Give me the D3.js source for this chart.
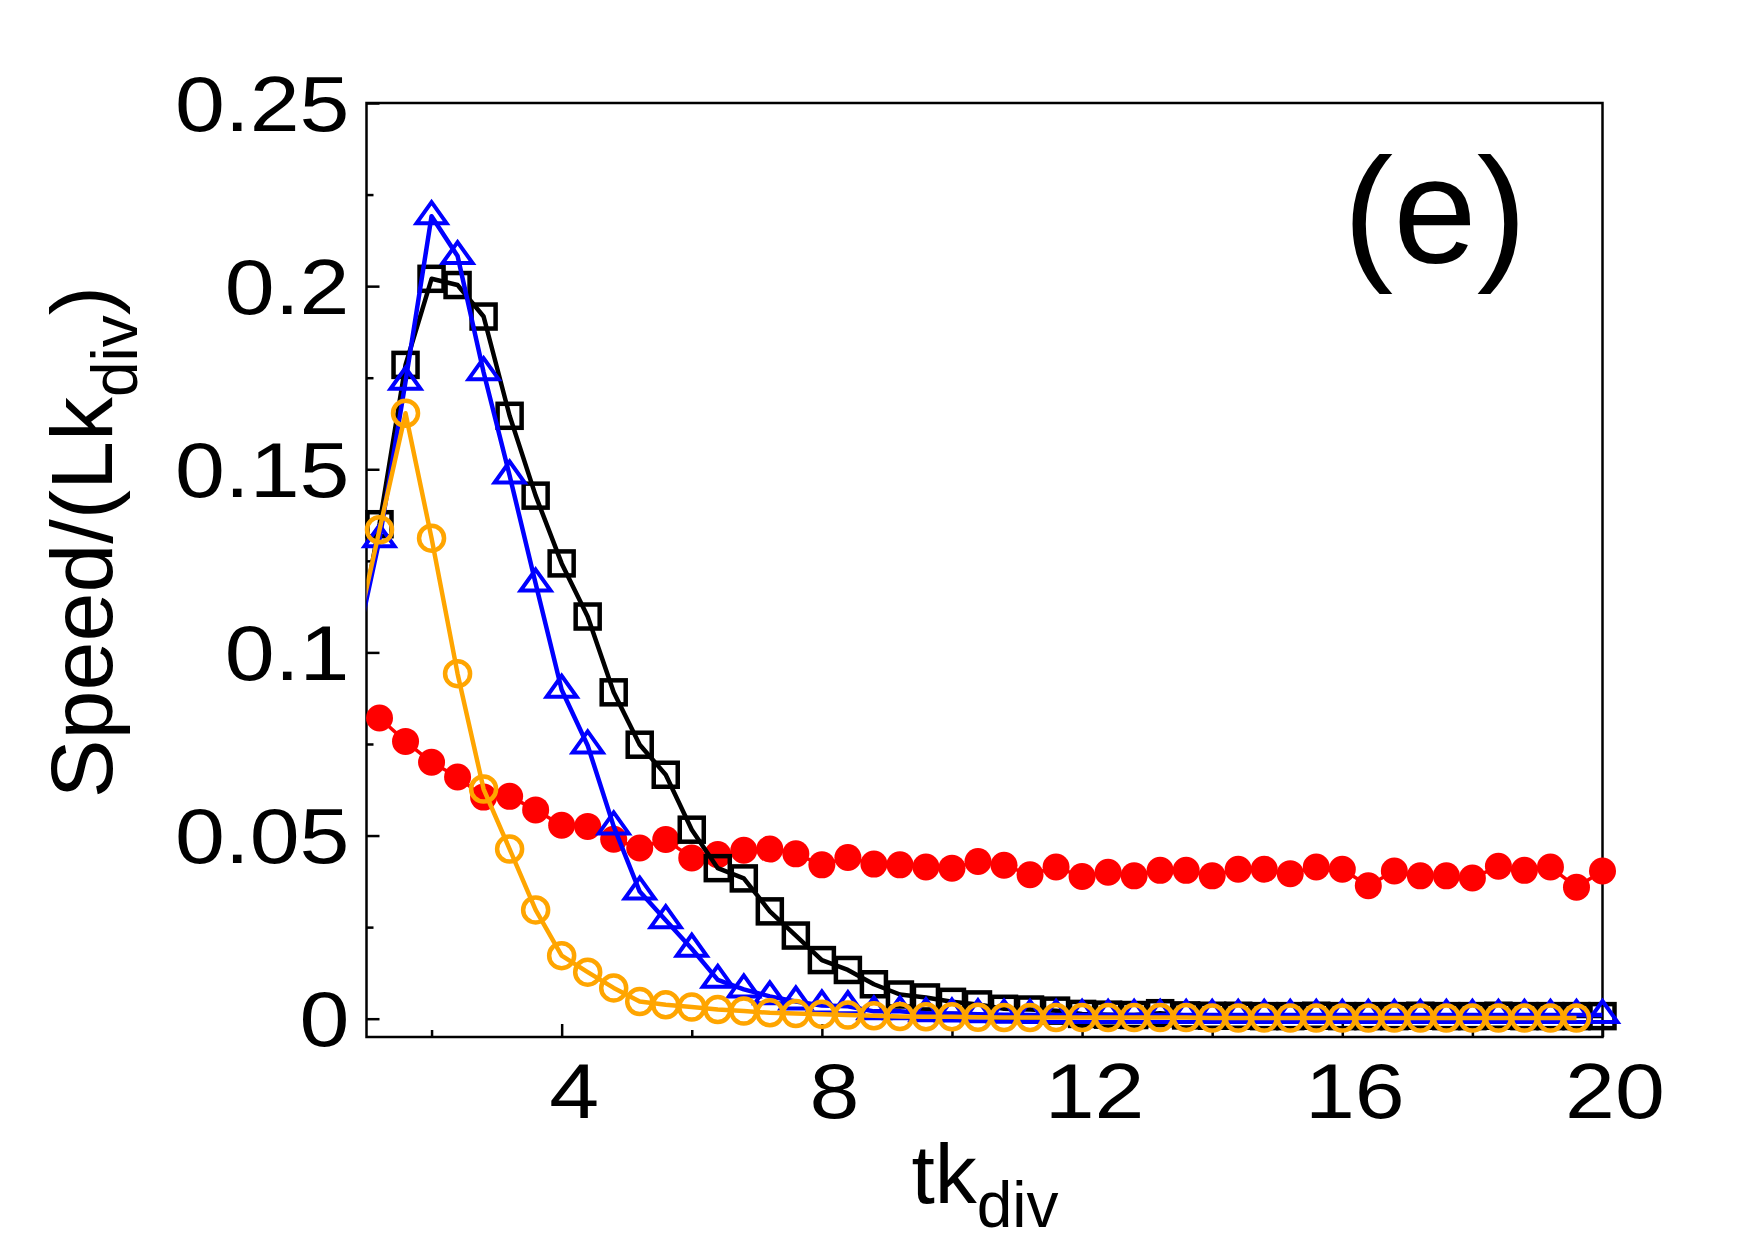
<!DOCTYPE html>
<html>
<head>
<meta charset="utf-8">
<script src="https://cdn.jsdelivr.net/npm/d3@7"></script>
<style>
  body { margin: 0; background: #fff; }
  svg  { display: block; font-family: "Liberation Sans", Arial, sans-serif; }
  .axis path { display: none; }
  .axis line { stroke: #000; stroke-width: 2.5; }
  .axis text { font-size: 78px; fill: #000; }
  .frame { fill: none; stroke: #000; stroke-width: 2.5; }
</style>
</head>
<body>
<svg id="chart" width="1755" height="1240"></svg>
<script>
// Sampling of tk_div (0.8 lies left of the frame, only its line segment shows)
var tk = [0.8, 1.2, 1.6, 2.0, 2.4, 2.8, 3.2, 3.6, 4.0, 4.4, 4.8, 5.2, 5.6, 6.0, 6.4, 6.8,
          7.2, 7.6, 8.0, 8.4, 8.8, 9.2, 9.6, 10.0, 10.4, 10.8, 11.2, 11.6, 12.0, 12.4, 12.8,
          13.2, 13.6, 14.0, 14.4, 14.8, 15.2, 15.6, 16.0, 16.4, 16.8, 17.2, 17.6, 18.0,
          18.4, 18.8, 19.2, 19.6, 20.0]

// Speed/(L k_div), one value per tk entry (null = no point)
var squares = [0.097, 0.135, 0.1785, 0.202, 0.2003, 0.1917, 0.1646, 0.1428, 0.1243, 0.1098,
               0.0891, 0.0748, 0.0666, 0.0516, 0.0411, 0.0383, 0.0293, 0.0227, 0.016, 0.0133,
               0.0094, 0.0066, 0.0058, 0.0046, 0.0039, 0.0027, 0.0025, 0.0022, 0.0013, 0.0011,
               0.001, 0.0015, 0.0009, 0.0008, 0.0008, 0.0007, 0.0007, 0.0008, 0.0007, 0.0007,
               0.0007, 0.0008, 0.0007, 0.0007, 0.0008, 0.0007, 0.0007, 0.0007, 0.0007]

var triangles = [0.098, 0.1309, 0.1739, 0.2191, 0.2082, 0.1765, 0.1483, 0.1188, 0.0898, 0.0746,
                 0.0525, 0.0347, 0.0269, 0.0191, 0.0106, 0.008, 0.0061, 0.0047, 0.0036, 0.0034,
                 0.002, 0.002, 0.0015, 0.0014, 0.0012, 0.0011, 0.001, 0.001, 0.001, 0.001,
                 0.001, 0.001, 0.001, 0.001, 0.001, 0.001, 0.001, 0.001, 0.001, 0.001,
                 0.001, 0.001, 0.001, 0.001, 0.001, 0.001, 0.001, 0.001, 0.001]

var circles = [0.1015, 0.1335, 0.1653, 0.1312, 0.0942, 0.0627, 0.0463, 0.0297, 0.0172, 0.0127,
               0.0084, 0.0047, 0.0038, 0.0032, 0.0025, 0.0021, 0.0016, 0.0014, 0.0012, 0.001,
               0.0008, 0.0006, 0.0005, 0.0005, 0.0004, 0.0003, 0.0003, 0.0003, 0.0003, 0.0003,
               0.0003, 0.0003, 0.0003, 0.0002, 0.0002, 0.0002, 0.0002, 0.0002, 0.0002, 0.0002,
               0.0002, 0.0002, 0.0002, 0.0002, 0.0002, 0.0002, 0.0002, 0.0002, null]

var dots = [null, 0.0821, 0.0757, 0.070, 0.066, 0.0605, 0.0607, 0.057, 0.0528, 0.0525,
            0.049, 0.0466, 0.0489, 0.0439, 0.0448, 0.046, 0.0463, 0.045, 0.042, 0.044,
            0.0422, 0.042, 0.0414, 0.0411, 0.0429, 0.0419, 0.0393, 0.0414, 0.0388, 0.040,
            0.039, 0.0405, 0.0405, 0.039, 0.0408, 0.0408, 0.0396, 0.0414, 0.0408, 0.0363,
            0.0403, 0.039, 0.039, 0.0384, 0.0416, 0.0405, 0.0414, 0.0359, 0.0403]

// Ticks
var xTicks      = [4, 8, 12, 16, 20]
var xMinorTicks = [2, 6, 10, 14, 18]
var yTicks      = [0, 0.05, 0.1, 0.15, 0.2, 0.25]
var yTickLabels = ["0", "0.05", "0.1", "0.15", "0.2", "0.25"]
var yMinorTicks = [0.025, 0.075, 0.125, 0.175, 0.225]

// Plot box in page pixels ("top" is taken by window.top, hence the prefix)
var plotLeft   = 366.5,
    plotRight  = 1602.5,
    plotTop    = 103,
    plotBottom = 1037,
    svg        = d3.select("#chart")

var xScale = d3.scaleLinear().domain([1, 20]).range([plotLeft, plotRight]),
    yScale = d3.scaleLinear().domain([-0.005, 0.25]).range([plotBottom, plotTop])

// Frame
svg.append("rect")
   .attr("class", "frame")
   .attr("x", plotLeft)
   .attr("y", plotTop)
   .attr("width", plotRight - plotLeft)
   .attr("height", plotBottom - plotTop)

svg.append("clipPath")
   .attr("id", "plotClip")
   .append("rect")
     .attr("x", plotLeft)
     .attr("y", plotTop)
     .attr("width", plotRight - plotLeft)
     .attr("height", plotBottom - plotTop)

// Axes: ticks point inward, labels slightly widened like the original
var stretch = 1.15

var yAxis = d3.axisLeft(yScale)
              .tickValues(yTicks)
              .tickSize(-13)
              .tickPadding(17)
              .tickFormat(function (d, i) { return yTickLabels[i] })
var gy = svg.append("g")
            .attr("class", "axis axis-y")
            .attr("transform", "translate(" + plotLeft + ",0)")
            .call(yAxis)
gy.selectAll("text")
  .attr("x", -17 / stretch)
  .attr("dy", "0.35em")
  .attr("transform", "scale(" + stretch + ",1)")

svg.append("g")
   .attr("class", "axis")
   .attr("transform", "translate(" + plotLeft + ",0)")
   .call(d3.axisLeft(yScale).tickValues(yMinorTicks).tickSize(-7).tickFormat(""))

var xAxis = d3.axisBottom(xScale)
              .tickValues(xTicks)
              .tickSize(-13)
              .tickPadding(26)
var gx = svg.append("g")
            .attr("class", "axis axis-x")
            .attr("transform", "translate(0," + plotBottom + ")")
            .call(xAxis)
gx.selectAll("text")
  .attr("x", 12 / stretch)
  .attr("transform", "scale(" + stretch + ",1)")

svg.append("g")
   .attr("class", "axis")
   .attr("transform", "translate(0," + plotBottom + ")")
   .call(d3.axisBottom(xScale).tickValues(xMinorTicks).tickSize(-7).tickFormat(""))

// Axis titles
var yTitle = svg.append("text")
                .attr("transform", "translate(112,542) rotate(-90)")
                .attr("text-anchor", "middle")
                .style("font-size", "88px")
yTitle.append("tspan").text("Speed/(Lk")
yTitle.append("tspan").attr("dy", 25).style("font-size", "64px").text("div")
yTitle.append("tspan").attr("dy", -25).text(")")

var xTitle = svg.append("text")
                .attr("x", 985)
                .attr("y", 1203)
                .attr("text-anchor", "middle")
                .style("font-size", "84px")
xTitle.append("tspan").text("tk")
xTitle.append("tspan").attr("dy", 24).style("font-size", "64px").text("div")

// Panel label
svg.append("text")
   .attr("x", 1435)
   .attr("y", 263)
   .attr("text-anchor", "middle")
   .style("font-size", "150px")
   .text("(e)")

// Series, drawn bottom to top
var series = [
  { vals: dots,      colour: "#ff0000", width: 3.5, marker: "dot" },
  { vals: squares,   colour: "#000000", width: 4.5, marker: "square" },
  { vals: triangles, colour: "#0000ff", width: 4.5, marker: "triangle" },
  { vals: circles,   colour: "#ffa500", width: 4.5, marker: "circle" }
]

var line = d3.line()
             .defined(function (d) { return d.v != null })
             .x(function (d) { return xScale(d.x) })
             .y(function (d) { return yScale(d.v) })

series.forEach(function (s) {
  var data = tk.map(function (x, i) { return { x: x, v: s.vals[i] } }),
      pts  = data.filter(function (d) { return d.v != null && d.x >= 1 }),
      g    = svg.append("g").attr("class", "series")

  g.append("path")
   .datum(data)
   .attr("clip-path", "url(#plotClip)")
   .attr("d", line)
   .style("fill", "none")
   .style("stroke", s.colour)
   .style("stroke-width", s.width)
   .style("stroke-linejoin", "round")

  var marks = g.selectAll(".mark").data(pts).enter()
  if (s.marker == "dot") {
    marks.append("circle")
         .attr("cx", function (d) { return xScale(d.x) })
         .attr("cy", function (d) { return yScale(d.v) })
         .attr("r", 13.5)
         .style("fill", s.colour)
  } else if (s.marker == "circle") {
    marks.append("circle")
         .attr("cx", function (d) { return xScale(d.x) })
         .attr("cy", function (d) { return yScale(d.v) })
         .attr("r", 12.5)
         .style("fill", "none")
         .style("stroke", s.colour)
         .style("stroke-width", 4.5)
  } else if (s.marker == "square") {
    marks.append("rect")
         .attr("x", function (d) { return xScale(d.x) - 12 })
         .attr("y", function (d) { return yScale(d.v) - 12 })
         .attr("width", 24)
         .attr("height", 24)
         .style("fill", "none")
         .style("stroke", s.colour)
         .style("stroke-width", 4.5)
  } else {
    marks.append("path")
         .attr("d", function (d) {
           var cx = xScale(d.x), cy = yScale(d.v)
           return "M" + cx + "," + (cy - 14) + "L" + (cx + 15) + "," + (cy + 7) +
                  "L" + (cx - 15) + "," + (cy + 7) + "Z"
         })
         .style("fill", "none")
         .style("stroke", s.colour)
         .style("stroke-width", 4)
         .style("stroke-linejoin", "miter")
  }
})
</script>
</body>
</html>
